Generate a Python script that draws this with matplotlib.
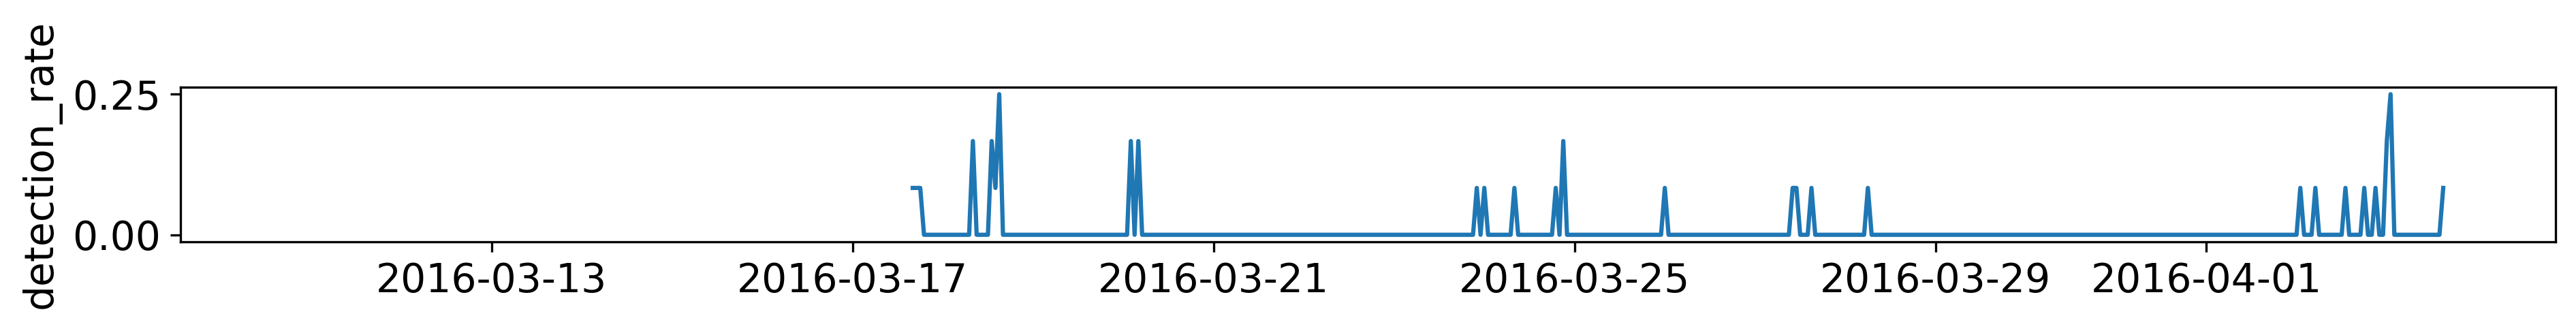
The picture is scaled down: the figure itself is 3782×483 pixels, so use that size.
import matplotlib
matplotlib.use('Agg')
import matplotlib.pyplot as plt
import matplotlib.dates as mdates
from matplotlib.ticker import FormatStrFormatter
import pandas as pd

# série horária: só os picos não nulos, o resto é zero
start = '2016-03-17 16:00'
end = '2016-04-03 15:00'
spike_times = ['2016-03-17 16:00', '2016-03-17 17:00', '2016-03-17 18:00',
               '2016-03-18 08:00', '2016-03-18 13:00', '2016-03-18 14:00',
               '2016-03-18 15:00', '2016-03-20 02:00', '2016-03-20 04:00',
               '2016-03-23 22:00', '2016-03-24 00:00', '2016-03-24 08:00',
               '2016-03-24 19:00', '2016-03-24 21:00', '2016-03-26 00:00',
               '2016-03-27 10:00', '2016-03-27 11:00', '2016-03-27 15:00',
               '2016-03-28 06:00', '2016-04-02 01:00', '2016-04-02 05:00',
               '2016-04-02 13:00', '2016-04-02 18:00', '2016-04-02 21:00',
               '2016-04-03 00:00', '2016-04-03 01:00', '2016-04-03 15:00']
spike_values = [1/12, 1/12, 1/12,
                2/12, 2/12, 1/12,
                3/12, 2/12, 2/12,
                1/12, 1/12, 1/12,
                1/12, 2/12, 1/12,
                1/12, 1/12, 1/12,
                1/12, 1/12, 1/12,
                1/12, 1/12, 1/12,
                2/12, 3/12, 1/12]

horas = pd.date_range(start, end, freq='h')
rate = pd.Series(0.0, index=horas)
rate[pd.to_datetime(spike_times)] = spike_values

fig = plt.figure(figsize=(3782 / 300, 483 / 300), dpi=300)
ax = fig.add_axes([0.0701, 0.265, 0.9220, 0.470])
ax.plot(rate.index, rate.values, color='#1f77b4', linewidth=1.5)

ax.set_xlim(pd.Timestamp('2016-03-09 13:18'), pd.Timestamp('2016-04-04 20:54'))
ax.set_ylim(-0.0125, 0.2625)
ax.set_yticks([0, 0.25])
ax.yaxis.set_major_formatter(FormatStrFormatter('%.2f'))
ax.xaxis.set_major_locator(mdates.DayLocator(bymonthday=[1, 5, 9, 13, 17, 21, 25, 29]))
ax.xaxis.set_major_formatter(mdates.DateFormatter('%Y-%m-%d'))
ax.tick_params(labelsize=14)
ax.set_ylabel('detection_rate', fontsize=14)

fig.savefig('out.png', dpi=300)
